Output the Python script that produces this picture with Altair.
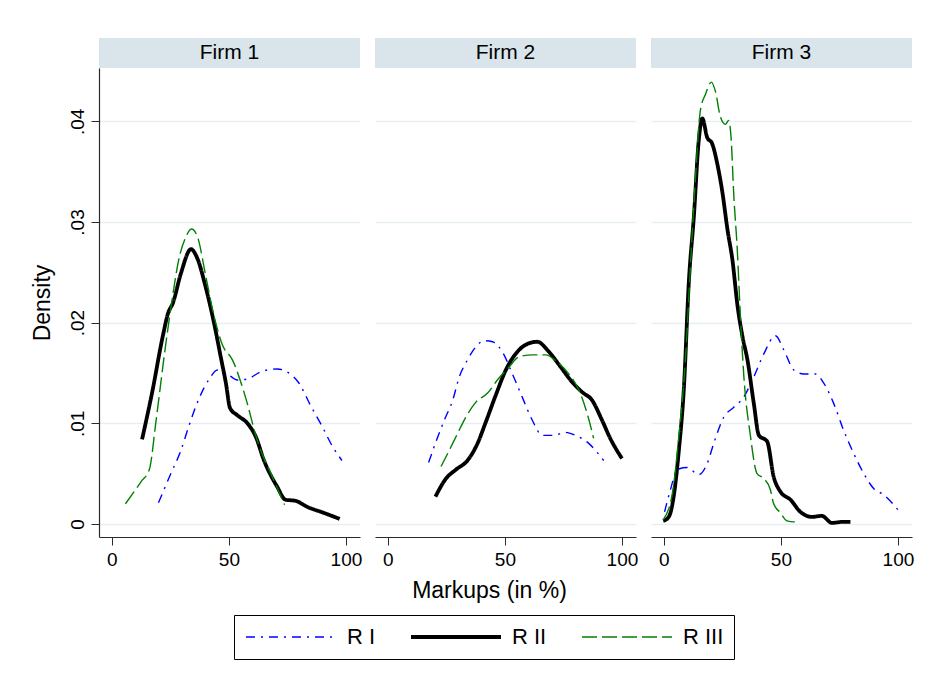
import altair as alt
import pandas as pd

FIRMS = ["Firm 1", "Firm 2", "Firm 3"]
REGIMES = ["R I", "R II", "R III"]
X_TICKS = [0, 50, 100]
Y_TICKS = [0, 0.01, 0.02, 0.03, 0.04]

# ---- Firm 1 ----
F1_RI_X = [19.9, 25.2, 29.5, 33.0, 37.3, 41.6, 45.1, 49.4, 53.6, 57.9, 63.5, 70.6, 74.9, 79.9, 84.8, 89.8, 94.0, 98.3]
F1_RI_Y = [.0021, .0050, .0073, .0098, .0125, .0144, .0153, .0149, .0143, .0144, .0151, .0154, .0151, .0140, .0118, .0097, .0078, .0063]
F1_RII_X = [12.9, 17.4, 21.7, 24.1, 26.0, 29.5, 33.8, 36.3, 40.1, 43.7, 46.5, 48.7, 50.5, 53.6, 57.9, 61.4, 65.0, 70.6, 74.2, 78.4, 83.4, 90.5, 97.3]
F1_RII_Y = [.0084, .0133, .0186, .0210, .0219, .0249, .0273, .0265, .0235, .0199, .0166, .0140, .0115, .0108, .0100, .0087, .0063, .0037, .0024, .0023, .0017, .0011, .0005]
F1_RIII_X = [5.8, 12.5, 16.0, 18.9, 22.7, 25.3, 28.8, 31.6, 34.0, 36.6, 40.2, 43.7, 47.2, 51.5, 57.2, 62.1, 68.5, 73.8]
F1_RIII_Y = [.0020, .0042, .0054, .0103, .0173, .0216, .0265, .0285, .0293, .0285, .0245, .0206, .0178, .0163, .0125, .0083, .0047, .0019]

# ---- Firm 2 ----
F2_RI_X = [17.4, 20.6, 24.1, 27.7, 30.5, 34.0, 37.6, 41.1, 44.7, 48.9, 53.2, 57.4, 61.7, 66.0, 70.9, 75.9, 80.1, 85.8, 92.2]
F2_RI_Y = [.0061, .0082, .0103, .0123, .0146, .0163, .0176, .0182, .0181, .0171, .0149, .0126, .0103, .0088, .0088, .0091, .0088, .0080, .0063]
F2_RII_X = [20.3, 24.8, 29.1, 34.0, 38.3, 41.8, 46.1, 50.4, 54.6, 58.9, 63.8, 68.8, 73.8, 78.7, 83.0, 87.2, 91.5, 95.0, 100.0]
F2_RII_Y = [.0027, .0045, .0054, .0063, .0080, .0101, .0128, .0153, .0169, .0178, .0181, .0171, .0156, .0141, .0131, .0123, .0103, .0085, .0065]
F2_RIII_X = [22.7, 26.2, 29.8, 33.3, 37.6, 42.6, 46.8, 51.8, 56.0, 61.7, 67.4, 72.3, 77.3, 81.6, 85.1, 87.9]
F2_RIII_Y = [.0057, .0073, .0090, .0106, .0121, .0130, .0143, .0156, .0166, .0168, .0168, .0161, .0149, .0133, .0110, .0085]

# ---- Firm 3 ----
F3_RI_X = [0.3, 2.8, 5.7, 9.9, 14.9, 18.5, 21.3, 25.6, 29.9, 34.1, 38.4, 42.7, 47.7, 51.2, 55.5, 59.7, 64.7, 68.3, 72.5, 76.8, 81.1, 85.4, 89.7, 93.9, 100.0]
F3_RI_Y = [.0012, .0034, .0054, .0056, .0049, .0060, .0080, .0106, .0116, .0126, .0146, .0169, .0187, .0173, .0153, .0149, .0149, .0140, .0120, .0093, .0070, .0050, .0035, .0029, .0014]
F3_RII_X = [-0.3, 2.1, 4.3, 6.4, 8.5, 10.7, 12.8, 14.9, 16.4, 18.5, 20.6, 22.8, 24.9, 27.2, 29.3, 31.5, 33.6, 35.7, 38.4, 40.6, 44.1, 46.9, 49.8, 54.1, 58.3, 63.3, 67.5, 71.8, 76.1, 79.7]
F3_RII_Y = [.0003, .0007, .0029, .0073, .0133, .0242, .0305, .0381, .0403, .0384, .0378, .0358, .0331, .0292, .0262, .0216, .0186, .0163, .0120, .0088, .0082, .0047, .0032, .0024, .0012, .0007, .0008, .0001, .0002, .0002]
F3_RIII_X = [-0.3, 3.6, 6.4, 9.2, 11.4, 13.5, 15.6, 17.8, 20.3, 22.0, 24.2, 26.3, 27.7, 28.7, 29.9, 31.3, 32.7, 34.1, 37.0, 39.8, 42.7, 45.5, 46.9, 49.8, 52.6, 55.5, 57.6]
F3_RIII_Y = [.0004, .0030, .0087, .0163, .0259, .0344, .0411, .0427, .0439, .0430, .0404, .0397, .0401, .0384, .0325, .0275, .0206, .0149, .0087, .0050, .0045, .0034, .0020, .0011, .0003, .0002, .0002]

SERIES = [
    ("Firm 1", "R I", F1_RI_X, F1_RI_Y), ("Firm 1", "R II", F1_RII_X, F1_RII_Y), ("Firm 1", "R III", F1_RIII_X, F1_RIII_Y),
    ("Firm 2", "R I", F2_RI_X, F2_RI_Y), ("Firm 2", "R II", F2_RII_X, F2_RII_Y), ("Firm 2", "R III", F2_RIII_X, F2_RIII_Y),
    ("Firm 3", "R I", F3_RI_X, F3_RI_Y), ("Firm 3", "R II", F3_RII_X, F3_RII_Y), ("Firm 3", "R III", F3_RIII_X, F3_RIII_Y),
]
rows = []
for firm, reg, xs, ys in SERIES:
    for i, (x, y) in enumerate(zip(xs, ys)):
        rows.append({"firm": firm, "regime": reg, "x": x, "y": y, "i": i})
df = pd.DataFrame(rows)

FONT = "Liberation Sans"
AX = "#2b2b2b"
GRID = "#e6eef1"
STRIP = "#d9e5eb"
PW, PH, HH = 261, 469, 30
XDOM = [-5.5, 106]
YDOM = [-0.0013, 0.0453]

color_scale = alt.Scale(domain=REGIMES, range=["#0000ff", "#000000", "#008000"])
dash_scale = alt.Scale(domain=REGIMES, range=[[9, 6, 2, 6], [1, 0], [15, 5]])
width_scale = alt.Scale(type="ordinal", domain=REGIMES, range=[1.4, 3.8, 1.4])

legend = alt.Legend(
    title=None, orient="none", legendX=135, legendY=577, direction="horizontal",
    columns=3, symbolType="stroke", symbolSize=8100, clipHeight=24, labelFont=FONT,
    labelFontSize=22, labelColor="black", labelOffset=9, columnPadding=33,
    strokeColor="black", padding=10, fillColor="white",
)

LABEL_EXPR = "datum.value == 0 ? '0' : substring(format(datum.value, '.2f'), 1)"


def panel(idx, firm):
    if idx == 0:
        yaxis = alt.Axis(values=Y_TICKS, labelExpr=LABEL_EXPR, title="Density",
                         domain=True, domainColor=AX, domainWidth=1.2, ticks=True, tickSize=8,
                         tickColor=AX, labelAngle=-90, labelAlign="center", labelBaseline="bottom",
                         labelPadding=4, labelFont=FONT, labelFontSize=19, labelColor="black",
                         titleFont=FONT, titleFontSize=23, titleFontWeight="normal", titleColor="black",
                         titlePadding=14, grid=True, gridColor=GRID, gridWidth=1.5)
    else:
        yaxis = alt.Axis(values=Y_TICKS, domain=False, ticks=False, labels=False, title=None,
                         grid=True, gridColor=GRID, gridWidth=1.5)
    xkw = dict(values=X_TICKS, format="d", domain=True, domainColor=AX, domainWidth=1.2, ticks=True,
               tickSize=8, tickColor=AX, labelFont=FONT, labelFontSize=19, labelColor="black",
               labelPadding=5, grid=False, labelFlush=False, labelOverlap=False)
    if idx == 1:
        xaxis = alt.Axis(title="Markups (in %)", titleFont=FONT, titleFontSize=23,
                         titleFontWeight="normal", titleColor="black", titlePadding=10,
                         titleX=114, **xkw)
    else:
        xaxis = alt.Axis(title=None, **xkw)

    plot = alt.Chart(df).transform_filter(alt.datum.firm == firm).mark_line(
        interpolate="monotone", strokeCap="butt", strokeJoin="round"
    ).encode(
        x=alt.X("x:Q", scale=alt.Scale(domain=XDOM, nice=False, zero=False), axis=xaxis),
        y=alt.Y("y:Q", scale=alt.Scale(domain=YDOM, nice=False, zero=False), axis=yaxis),
        color=alt.Color("regime:N", scale=color_scale, legend=legend),
        strokeDash=alt.StrokeDash("regime:N", scale=dash_scale, legend=legend),
        strokeWidth=alt.StrokeWidth("regime:N", scale=width_scale, legend=legend),
        order=alt.Order("i:Q"),
    ).properties(width=PW, height=PH)

    header = alt.Chart(pd.DataFrame({"firm": [firm]})).mark_text(
        font=FONT, fontSize=21, color="black", baseline="middle", align="center"
    ).encode(text="firm:N").properties(
        width=PW, height=HH, view=alt.ViewBackground(fill=STRIP, stroke=None)
    )
    return alt.vconcat(header, plot, spacing=0, bounds="flush")


chart = alt.hconcat(*[panel(i, f) for i, f in enumerate(FIRMS)], spacing=13).resolve_scale(
    color="shared", strokeDash="shared", strokeWidth="shared"
).properties(
    padding={"left": 23, "top": 30, "right": 5, "bottom": 5},
    background="white",
).configure_view(stroke=None)

chart.save("out.html", embed_options={"renderer": "svg", "actions": False})
